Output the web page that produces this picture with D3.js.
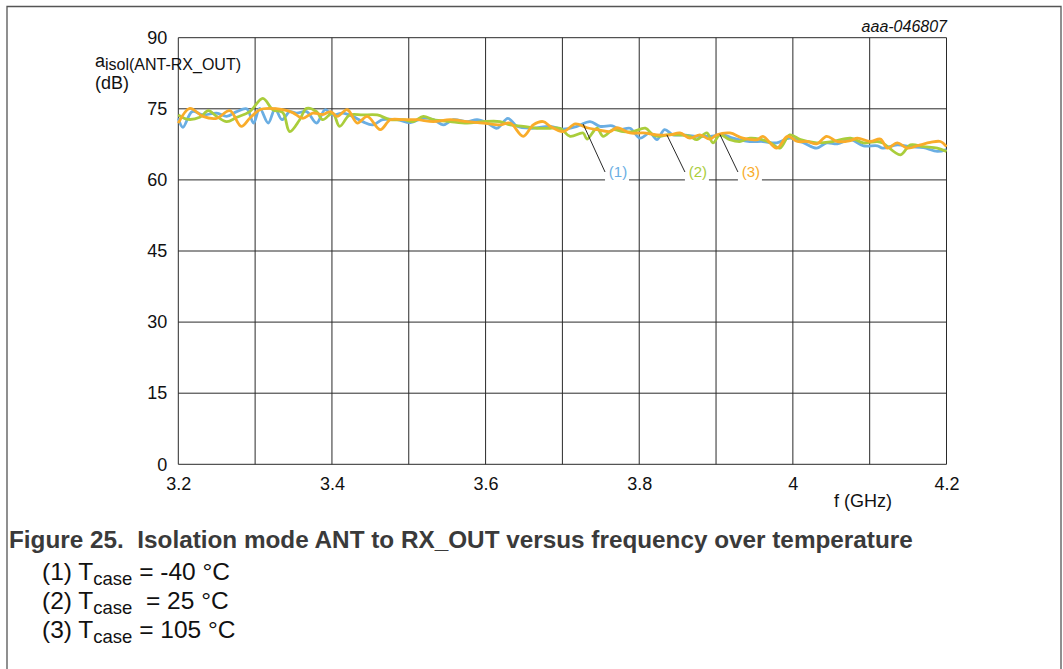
<!DOCTYPE html>
<html><head><meta charset="utf-8">
<script src="https://cdn.jsdelivr.net/npm/d3@7"></script>
<style>body{margin:0;background:#fff;}svg{display:block;font-family:"Liberation Sans",Arial,sans-serif;}</style>
</head><body>
<svg id="c" width="1063" height="669"></svg>
<script>
const xTicks = [3.2, 3.4, 3.6, 3.8, 4, 4.2];
const xGrid = [3.2,3.3,3.4,3.5,3.6,3.7,3.8,3.9,4.0,4.1,4.2];
const yTicks = [0, 15, 30, 45, 60, 75, 90];

const f1 = [3.200,3.206,3.218,3.232,3.250,3.263,3.276,3.289,3.298,3.306,3.317,3.326,3.335,3.345,3.354,3.367,3.380,3.391,3.401,3.414,3.427,3.440,3.453,3.466,3.485,3.502,3.519,3.532,3.545,3.558,3.576,3.589,3.602,3.615,3.629,3.641,3.658,3.684,3.701,3.719,3.736,3.749,3.765,3.775,3.788,3.801,3.814,3.823,3.833,3.844,3.857,3.875,3.892,3.909,3.922,3.944,3.961,3.979,3.996,4.013,4.031,4.044,4.058,4.075,4.092,4.110,4.117,4.136,4.153,4.170,4.188,4.200];
const v1 = [73.0,71.1,74.4,73.7,74.1,73.4,74.4,75.0,72.0,75.1,72.0,75.0,72.7,74.4,74.1,74.4,72.0,74.8,73.7,74.1,73.4,72.3,71.6,72.7,72.7,72.1,73.0,72.7,71.6,72.7,72.3,72.7,72.0,70.9,73.0,71.3,70.9,71.3,70.7,71.3,72.3,71.3,71.4,70.6,70.9,68.8,69.9,68.5,70.6,69.5,69.5,69.2,69.2,69.5,68.8,68.1,68.1,67.8,68.8,67.9,66.7,67.8,67.6,68.5,67.2,67.2,66.7,67.4,67.0,66.8,66.0,66.4];

const f2 = [3.200,3.211,3.228,3.239,3.250,3.263,3.276,3.293,3.310,3.323,3.336,3.345,3.358,3.367,3.380,3.388,3.401,3.410,3.423,3.440,3.459,3.476,3.493,3.506,3.519,3.532,3.554,3.576,3.597,3.619,3.632,3.649,3.667,3.684,3.697,3.710,3.727,3.732,3.745,3.753,3.766,3.779,3.792,3.808,3.818,3.827,3.836,3.849,3.866,3.875,3.888,3.896,3.905,3.918,3.931,3.944,3.957,3.970,3.983,3.996,4.010,4.031,4.052,4.075,4.092,4.110,4.117,4.140,4.153,4.170,4.188,4.200];
const v2 = [73.7,72.8,73.2,74.6,73.4,72.3,73.2,74.4,77.2,74.8,74.2,70.2,72.7,75.1,74.4,72.7,74.1,71.3,73.7,73.7,73.7,72.7,72.7,72.3,73.4,72.7,72.3,72.0,72.3,72.3,71.6,71.3,70.9,70.9,70.9,69.2,69.9,68.6,70.9,69.2,70.6,70.2,70.2,70.9,69.5,69.2,69.5,69.5,69.2,68.5,69.9,67.8,69.5,68.5,68.1,68.8,68.6,67.9,66.7,69.5,68.5,67.8,68.1,68.8,67.8,68.1,67.8,65.3,67.4,67.0,66.7,66.0];

const f3 = [3.200,3.215,3.232,3.250,3.267,3.282,3.293,3.306,3.319,3.336,3.349,3.362,3.375,3.388,3.398,3.407,3.420,3.433,3.446,3.463,3.476,3.493,3.511,3.532,3.554,3.576,3.597,3.619,3.632,3.649,3.662,3.675,3.684,3.701,3.717,3.732,3.745,3.762,3.771,3.788,3.805,3.823,3.840,3.853,3.866,3.879,3.892,3.901,3.918,3.935,3.954,3.961,3.979,3.993,4.006,4.019,4.031,4.044,4.058,4.075,4.084,4.101,4.114,4.123,4.136,4.149,4.166,4.179,4.192,4.200];
const v3 = [72.0,75.1,73.4,73.0,74.6,71.3,73.0,74.8,75.1,74.8,74.2,73.0,74.1,73.8,74.4,73.4,74.8,72.0,73.4,70.6,72.7,72.7,72.7,72.3,72.7,72.3,72.0,71.6,72.0,69.2,71.6,72.3,71.3,70.2,71.8,71.0,70.6,70.2,71.0,69.9,69.9,69.5,69.5,69.9,68.8,69.5,68.6,69.5,69.9,68.8,68.5,69.2,66.7,69.2,68.1,68.1,67.6,69.2,68.1,68.3,68.8,68.1,68.6,66.7,67.8,66.7,67.4,67.9,68.1,67.0];

const seriesNames = ["(1)", "(2)", "(3)"];
const seriesColors = ["#6aaee3", "#aacd3b", "#f9ac2a"];
const labelAnchorF = [3.727, 3.836, 3.905];
const labelF = [3.7555, 3.8595, 3.9285];

const svg = d3.select("#c");
const x = d3.scaleLinear().domain([3.2, 4.2]).range([178.3, 946.5]);
const y = d3.scaleLinear().domain([0, 90]).range([464.3, 37.7]);

svg.append("path").attr("d", "M7,669 V6.5 H1061 V669").attr("fill","none").attr("stroke","#555").attr("stroke-width",1.3);

const g = svg.append("g");
g.selectAll(".vg").data(xGrid).join("line")
  .attr("x1", d=>x(d)).attr("x2", d=>x(d)).attr("y1", y(0)).attr("y2", y(90))
  .attr("stroke","#2a2a2a").attr("stroke-width",1);
g.selectAll(".hg").data(yTicks).join("line")
  .attr("x1", x(3.2)).attr("x2", x(4.2)).attr("y1", d=>y(d)).attr("y2", d=>y(d))
  .attr("stroke","#2a2a2a").attr("stroke-width",1);

const yAxis = svg.append("g").attr("transform", `translate(${x(3.2)},0)`)
  .call(d3.axisLeft(y).tickValues(yTicks).tickSize(0).tickPadding(11).tickFormat(d3.format("d")));
yAxis.select(".domain").remove();
yAxis.selectAll("text").attr("font-size", 18).attr("fill","#111").attr("font-family","Liberation Sans, Arial, sans-serif");

const xAxis = svg.append("g").attr("transform", `translate(0,${y(0)})`)
  .call(d3.axisBottom(x).tickValues(xTicks).tickSize(0).tickPadding(13).tickFormat(d => d3.format("")(d)));
xAxis.select(".domain").remove();
xAxis.selectAll("text").attr("font-size", 18).attr("fill","#111").attr("font-family","Liberation Sans, Arial, sans-serif");

const series = [{f:f1, v:v1}, {f:f2, v:v2}, {f:f3, v:v3}];
const line = d3.line().x(d=>x(d[0])).y(d=>y(d[1])).curve(d3.curveCatmullRom.alpha(0.5));
series.forEach((s,i)=>{
  svg.append("path").datum(s.f.map((f,j)=>[f, s.v[j]]))
    .attr("d", line).attr("fill","none").attr("stroke", seriesColors[i])
    .attr("stroke-width", 2.8).attr("stroke-linejoin","round");
});

seriesNames.forEach((name,i)=>{
  const s = series[i];
  const interp = d3.scaleLinear().domain(s.f).range(s.v);
  const ax = x(labelAnchorF[i]), ay = y(interp(labelAnchorF[i]));
  const lx = x(labelF[i]);
  svg.append("rect").attr("x", lx).attr("y", 161).attr("width", 24).attr("height", 21).attr("fill","#fff");
  svg.append("line").attr("x1", ax).attr("y1", ay).attr("x2", lx).attr("y2", 172)
    .attr("stroke","#111").attr("stroke-width",0.9);
  svg.append("text").attr("x", lx + 13).attr("y", 177).attr("text-anchor","middle")
    .attr("font-size", 15).attr("fill", seriesColors[i]).text(name);
});

const yt = svg.append("text").attr("x", 95).attr("y", 67).attr("font-size", 18).attr("fill","#111");
yt.append("tspan").text("a");
yt.append("tspan").attr("dy", 3).attr("font-size", 16).text("isol(ANT-RX_OUT)");
svg.append("text").attr("x", 95).attr("y", 89).attr("font-size", 18).attr("fill","#111").text("(dB)");

svg.append("text").attr("x", 863).attr("y", 507).attr("text-anchor","middle").attr("font-size", 18).attr("fill","#111").text("f (GHz)");

svg.append("text").attr("x", 947).attr("y", 32).attr("text-anchor","end").attr("font-size", 16).attr("font-style","italic").attr("fill","#111").text("aaa-046807");

svg.append("text").attr("x", 9).attr("y", 548).attr("font-size", 24.3).attr("font-weight","bold").attr("fill","#3a3a3a")
  .attr("xml:space","preserve").text("Figure 25.  Isolation mode ANT to RX_OUT versus frequency over temperature");
const legendRows = [
  {n:"(1) T", s:"case", t:" = -40 °C"},
  {n:"(2) T", s:"case", t:"  = 25 °C"},
  {n:"(3) T", s:"case", t:" = 105 °C"}
];
legendRows.forEach((r,i)=>{
  const t = svg.append("text").attr("x", 42).attr("y", 580 + i*29).attr("font-size", 24.5).attr("fill","#111").attr("xml:space","preserve");
  t.append("tspan").text(r.n);
  t.append("tspan").attr("dy", 5).attr("font-size", 18.5).text(r.s);
  t.append("tspan").attr("dy", -5).text(r.t);
});
</script>
</body></html>
